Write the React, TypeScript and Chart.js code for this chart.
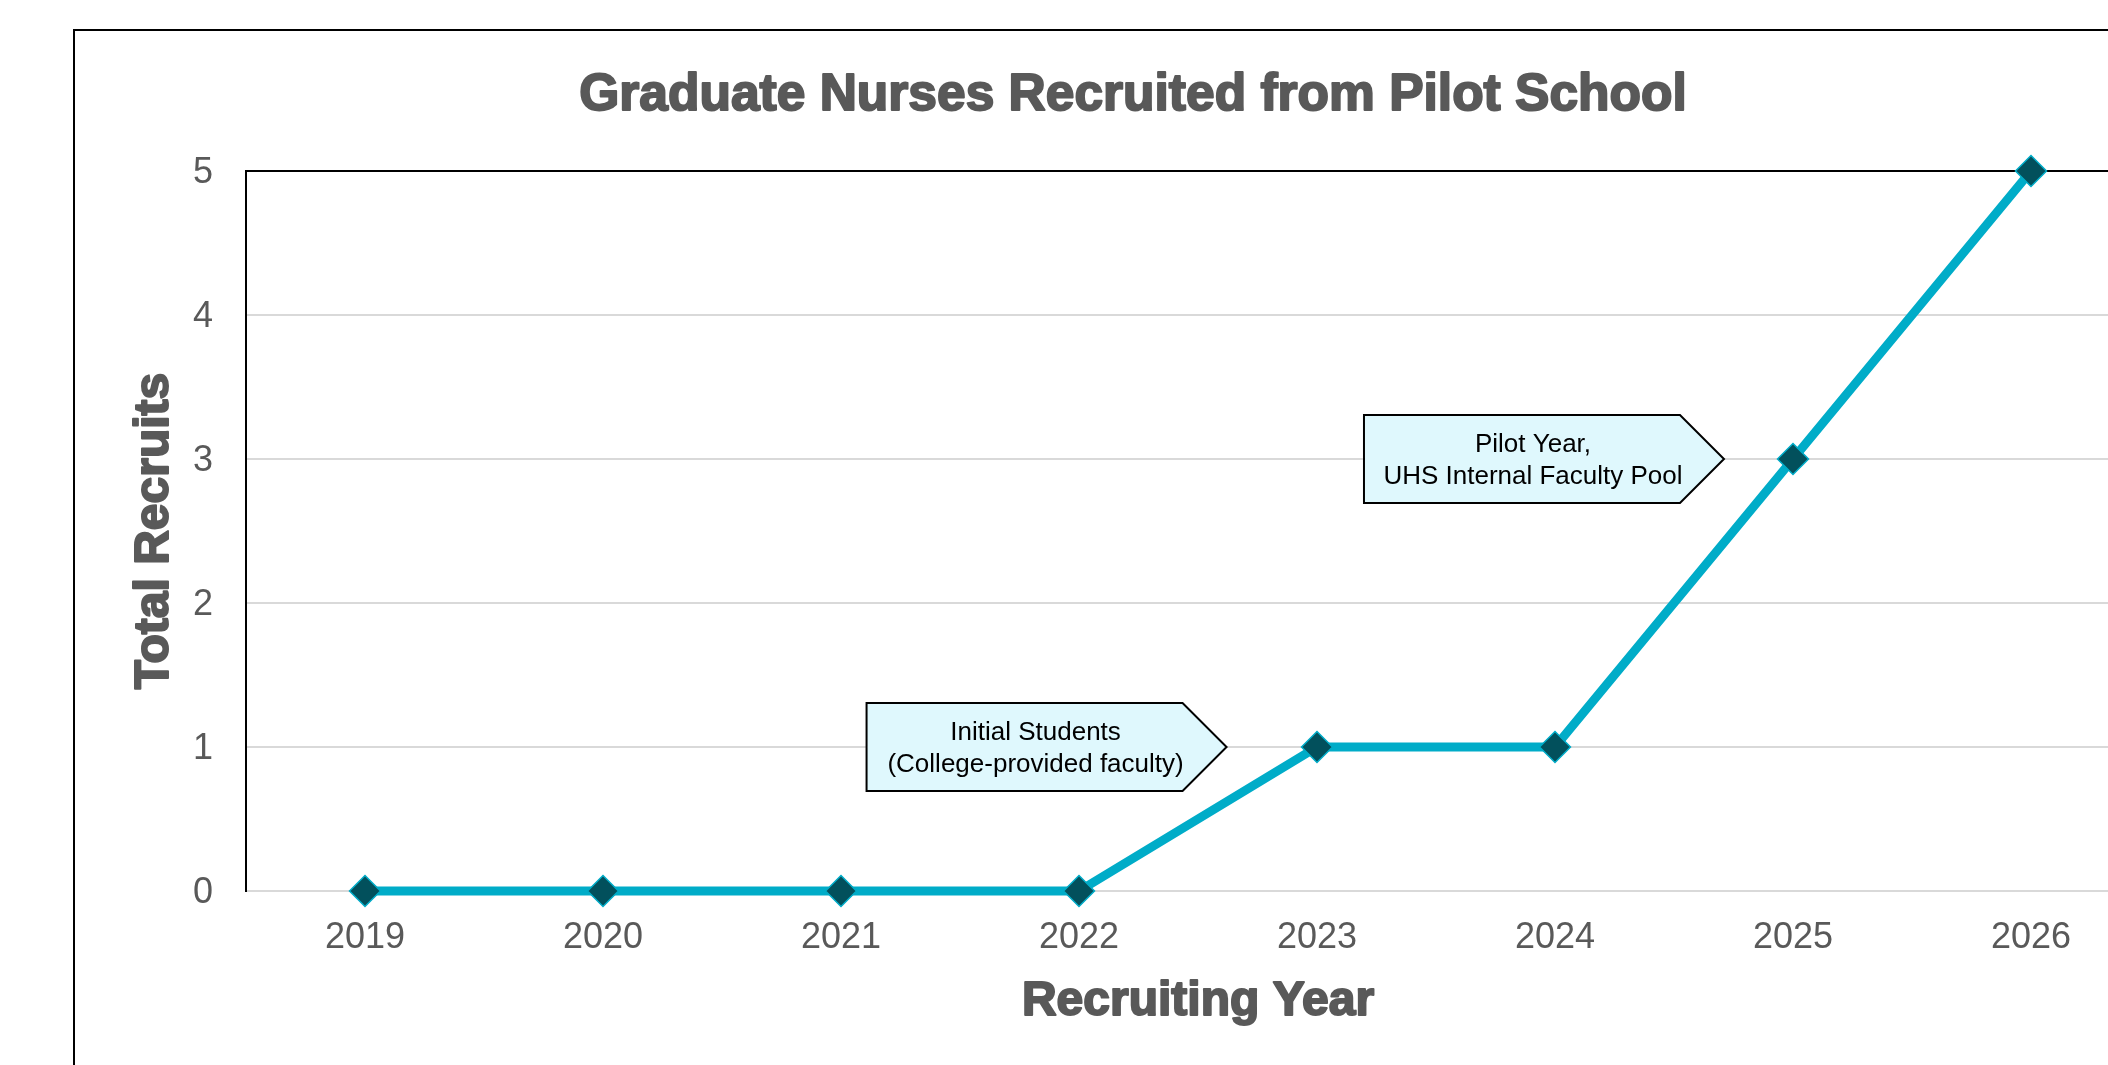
import React, { useEffect, useRef } from "react";
import { Chart, registerables } from "chart.js";

Chart.register(...registerables);

// ---- Data ----
const years = ["2019", "2020", "2021", "2022", "2023", "2024", "2025", "2026"];
const recruits = [0, 0, 0, 0, 1, 1, 3, 5];
const yTickValues = [0, 1, 2, 3, 4, 5];
const chartTitle = "Graduate Nurses Recruited from Pilot School";
const xAxisTitle = "Recruiting Year";
const yAxisTitle = "Total Recruits";
const calloutTexts = [
  ["Initial Students", "(College-provided faculty)"],
  ["Pilot Year,", "UHS Internal Faculty Pool"],
];
// arrow tip position of each callout, in data terms (category index, value)
const calloutTipIndex = [3.62, 5.71];
const calloutTipValue = [1, 3];

const FONT = "'Liberation Sans', Arial, Helvetica, sans-serif";
const GREY_TEXT = "#595959";
const LINE_COLOR = "#00ACC8";
const MARKER_COLOR = "#02505C";

const CANVAS_W = 2116;
const CANVAS_H = 1080;

const TITLE_SIZE = 51.5;
const AXIS_TITLE_SIZE = 48;
const TITLE_PAD_TOP = 34;
const X_TITLE_PAD_BOTTOM = 0;
const Y_TITLE_PAD_TOP = 51;

const plotFramePlugin = {
  id: "plotFrame",
  beforeDatasetsDraw(chart: any) {
    const { ctx, chartArea } = chart;
    const { left, top, right, bottom } = chartArea;
    ctx.save();
    ctx.strokeStyle = "#000000";
    ctx.lineWidth = 2;
    ctx.beginPath();
    ctx.moveTo(left - 1, top);
    ctx.lineTo(right, top);
    ctx.lineTo(right, bottom);
    ctx.stroke();
    ctx.restore();
  },
};

// Thicken the heavy bold titles (drawn by Chart.js) with a same-colour outline
const heavyTitlePlugin = {
  id: "heavyTitles",
  afterDraw(chart: any) {
    const { ctx } = chart;
    const xs = chart.scales.x;
    const ys = chart.scales.y;
    const tb = chart.titleBlock;
    ctx.save();
    ctx.strokeStyle = GREY_TEXT;
    ctx.lineWidth = 2;
    ctx.lineJoin = "round";
    ctx.textAlign = "center";
    ctx.textBaseline = "middle";
    // main title
    ctx.font = `bold ${TITLE_SIZE}px ${FONT}`;
    const tLh = TITLE_SIZE * 1.2;
    ctx.strokeText(chartTitle, (tb.left + tb.right) / 2, tb.top + TITLE_PAD_TOP + tLh / 2);
    // x title
    const aLh = AXIS_TITLE_SIZE * 1.2;
    ctx.font = `bold ${AXIS_TITLE_SIZE}px ${FONT}`;
    ctx.strokeText(xAxisTitle, (xs.left + xs.right) / 2, xs.bottom - X_TITLE_PAD_BOTTOM - aLh / 2);
    // y title
    ctx.translate(ys.left + Y_TITLE_PAD_TOP + aLh / 2, (ys.top + ys.bottom) / 2);
    ctx.rotate(-Math.PI / 2);
    ctx.strokeText(yAxisTitle, 0, 0);
    ctx.restore();
  },
};

const calloutPlugin = {
  id: "callouts",
  afterDatasetsDraw(chart: any) {
    const { ctx } = chart;
    const xs = chart.scales.x;
    const ys = chart.scales.y;
    const arrow = 44;
    const rectW = 316;
    const halfH = 44;
    ctx.save();
    calloutTexts.forEach((lines, i) => {
      const tx = xs.getPixelForValue(calloutTipIndex[i]);
      const ty = ys.getPixelForValue(calloutTipValue[i]);
      const left = tx - arrow - rectW;
      ctx.beginPath();
      ctx.moveTo(left, ty - halfH);
      ctx.lineTo(tx - arrow, ty - halfH);
      ctx.lineTo(tx, ty);
      ctx.lineTo(tx - arrow, ty + halfH);
      ctx.lineTo(left, ty + halfH);
      ctx.closePath();
      ctx.fillStyle = "#DFF8FD";
      ctx.fill();
      ctx.lineWidth = 2;
      ctx.strokeStyle = "#000000";
      ctx.lineJoin = "miter";
      ctx.stroke();
      ctx.fillStyle = "#000000";
      ctx.font = `26px ${FONT}`;
      ctx.textAlign = "center";
      ctx.textBaseline = "middle";
      const cx = left + rectW / 2 + 11;
      const lh = 32;
      const startY = ty + 2 - ((lines.length - 1) * lh) / 2;
      lines.forEach((t, j) => ctx.fillText(t, cx, startY + j * lh));
    });
    ctx.restore();
  },
};

export default function App() {
  const canvasRef = useRef<HTMLCanvasElement | null>(null);

  useEffect(() => {
    const canvas = canvasRef.current;
    if (!canvas) return;
    const chart = new Chart(canvas, {
      type: "line",
      data: {
        labels: years,
        datasets: [
          {
            label: yAxisTitle,
            data: recruits,
            borderColor: LINE_COLOR,
            borderWidth: 9,
            borderJoinStyle: "round",
            tension: 0,
            pointStyle: "rectRot",
            pointRadius: 15.5,
            pointHoverRadius: 15.5,
            pointBackgroundColor: MARKER_COLOR,
            pointBorderColor: LINE_COLOR,
            pointBorderWidth: 1.5,
            clip: false,
          } as any,
        ],
      },
      options: {
        animation: false,
        responsive: false,
        maintainAspectRatio: false,
        layout: { padding: { left: 0, right: 0, top: 0, bottom: 80 } },
        plugins: {
          legend: { display: false },
          tooltip: { enabled: false },
          title: {
            display: true,
            text: chartTitle,
            color: GREY_TEXT,
            font: { family: FONT, size: TITLE_SIZE, weight: "bold" },
            padding: { top: TITLE_PAD_TOP, bottom: 140 - TITLE_PAD_TOP - TITLE_SIZE * 1.2 },
          },
        },
        scales: {
          x: {
            type: "category",
            offset: true,
            grid: { display: false, drawTicks: false },
            border: { display: false },
            ticks: {
              color: GREY_TEXT,
              font: { family: FONT, size: 36 },
              padding: 25,
              maxRotation: 0,
              autoSkip: false,
            },
            title: {
              display: true,
              text: xAxisTitle,
              color: GREY_TEXT,
              font: { family: FONT, size: AXIS_TITLE_SIZE, weight: "bold" },
              padding: { top: 0, bottom: X_TITLE_PAD_BOTTOM },
            },
            afterFit(scale: any) {
              scale.height = 140;
              scale.paddingRight = 41;
            },
          },
          y: {
            min: 0,
            max: 5,
            afterBuildTicks(scale: any) {
              scale.ticks = yTickValues.map((v) => ({ value: v }));
            },
            grid: { color: "#D9D9D9", lineWidth: 2, drawTicks: false },
            border: { display: true, color: "#000000", width: 2 },
            ticks: {
              color: GREY_TEXT,
              font: { family: FONT, size: 36 },
              padding: 33,
              labelOffset: 2,
            },
            title: {
              display: true,
              text: yAxisTitle,
              color: GREY_TEXT,
              font: { family: FONT, size: AXIS_TITLE_SIZE, weight: "bold" },
              padding: { top: Y_TITLE_PAD_TOP, bottom: 0 },
            },
            afterFit(scale: any) {
              scale.width = 171;
            },
          },
        },
      },
      plugins: [plotFramePlugin, calloutPlugin, heavyTitlePlugin],
    });
    return () => chart.destroy();
  }, []);

  return (
    <div
      style={{
        position: "fixed",
        left: 0,
        top: 0,
        width: "100vw",
        height: "100vh",
        overflow: "hidden",
        background: "#ffffff",
      }}
    >
      <div
        style={{
          position: "absolute",
          left: 73,
          top: 29,
          border: "2px solid #000000",
          background: "#ffffff",
        }}
      >
        <canvas
          ref={canvasRef}
          width={CANVAS_W}
          height={CANVAS_H}
          style={{ display: "block", width: CANVAS_W, height: CANVAS_H }}
        />
      </div>
    </div>
  );
}
